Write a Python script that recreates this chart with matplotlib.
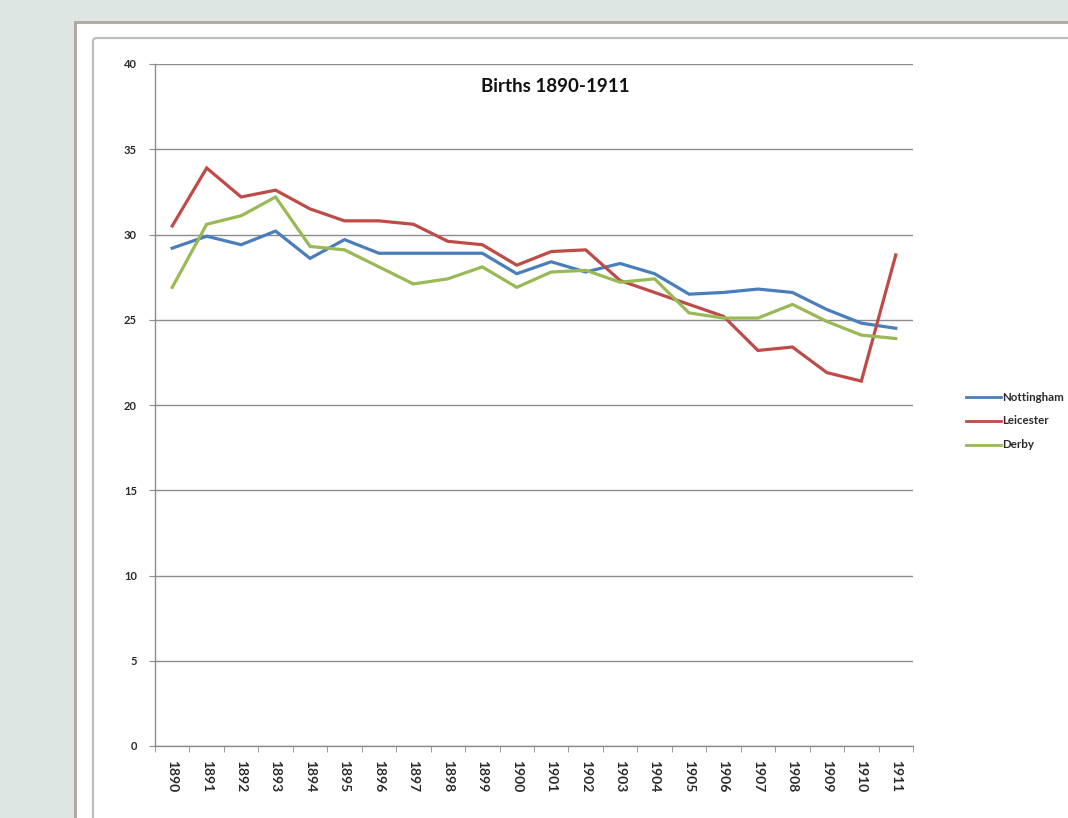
import matplotlib
matplotlib.use("Agg")
import matplotlib.pyplot as plt
from matplotlib.patches import Rectangle, FancyBboxPatch
from matplotlib.lines import Line2D

years = [str(y) for y in range(1890, 1912)]
nottingham = [29.2, 29.9, 29.4, 30.2, 28.6, 29.7, 28.9, 28.9, 28.9, 28.9, 27.7,
              28.4, 27.8, 28.3, 27.7, 26.5, 26.6, 26.8, 26.6, 25.6, 24.8, 24.5]
leicester = [30.5, 33.9, 32.2, 32.6, 31.5, 30.8, 30.8, 30.6, 29.6, 29.4, 28.2,
             29.0, 29.1, 27.3, 26.6, 25.9, 25.2, 23.2, 23.4, 21.9, 21.4, 28.8]
derby = [26.9, 30.6, 31.1, 32.2, 29.3, 29.1, 28.1, 27.1, 27.4, 28.1, 26.9,
         27.8, 27.9, 27.2, 27.4, 25.4, 25.1, 25.1, 25.9, 24.9, 24.1, 23.9]
series_names = ["Nottingham", "Leicester", "Derby"]
series_colors = ["#4a7ebb", "#be4b48", "#98b954"]
y_ticks = [0, 5, 10, 15, 20, 25, 30, 35, 40]

plt.rcParams["font.family"] = ["Lato", "DejaVu Sans"]

W, H = 1068, 818
fig = plt.figure(figsize=(W / 100, H / 100), dpi=100)
fig.patch.set_facecolor("#dde6e2")

# white sheet with brown edge, and the chart frame inside it
fig.add_artist(Rectangle((75 / W, -0.1), 1.2, 1 - 22 / H + 0.1,
                         transform=fig.transFigure, facecolor="white",
                         edgecolor="#b3a59c", linewidth=2, zorder=0))
fig.add_artist(FancyBboxPatch((93 / W, -0.1), 1.2, 1 - 38 / H + 0.1,
                              boxstyle="round,pad=0,rounding_size=0.004",
                              transform=fig.transFigure, facecolor="white",
                              edgecolor="#bdbdbd", linewidth=1.6, zorder=0.5))

ax = fig.add_axes([155 / W, 72 / H, (913 - 155) / W, (746 - 64) / H])
ax.set_zorder(2)
ax.set_facecolor("none")

x = list(range(len(years)))
for vals, name, col in zip([nottingham, leicester, derby], series_names, series_colors):
    ax.plot(x, vals, color=col, linewidth=2.3, label=name, solid_joinstyle="miter", zorder=3)

ax.set_xlim(-0.5, len(years) - 0.5)
ax.set_ylim(0, 40)
ax.set_yticks(y_ticks)
ax.set_yticklabels([str(v) for v in y_ticks], fontsize=8, fontweight="bold",
                   color="#2a2a2a")
ax.yaxis.grid(True, color="#8c8c8c", linewidth=1.0)
ax.set_axisbelow(True)

ax.set_xticks(x)
ax.set_xticklabels(years, rotation=270, fontsize=10, fontweight="bold",
                   color="#2a2a2a")
ax.set_xticks([i - 0.5 for i in range(len(years) + 1)], minor=True)
ax.tick_params(axis="x", which="major", length=0, pad=10)
ax.tick_params(axis="x", which="minor", length=4, color="#8c8c8c", direction="out")
ax.tick_params(axis="y", length=4, color="#8c8c8c", pad=9)

for s in ["top", "right"]:
    ax.spines[s].set_visible(False)
for s in ["left", "bottom"]:
    ax.spines[s].set_color("#8c8c8c")
    ax.spines[s].set_linewidth(1.0)

fig.text(555 / W, 1 - 87 / H, "Births 1890-1911", ha="center", va="center",
         fontsize=13.5, fontweight="bold", color="#111111")

# legend drawn at the right margin
for i, (name, col) in enumerate(zip(series_names, series_colors)):
    yl = 1 - (397 + 24 * i) / H
    fig.add_artist(Line2D([966 / W, 1001 / W], [yl, yl], transform=fig.transFigure,
                          color=col, linewidth=2.0, zorder=3))
    fig.text(1002 / W, yl, name, ha="left", va="center", fontsize=8.3,
             fontweight="bold", color="#2a2a2a", zorder=3)

fig.savefig("out.png", dpi=100, facecolor=fig.get_facecolor())
